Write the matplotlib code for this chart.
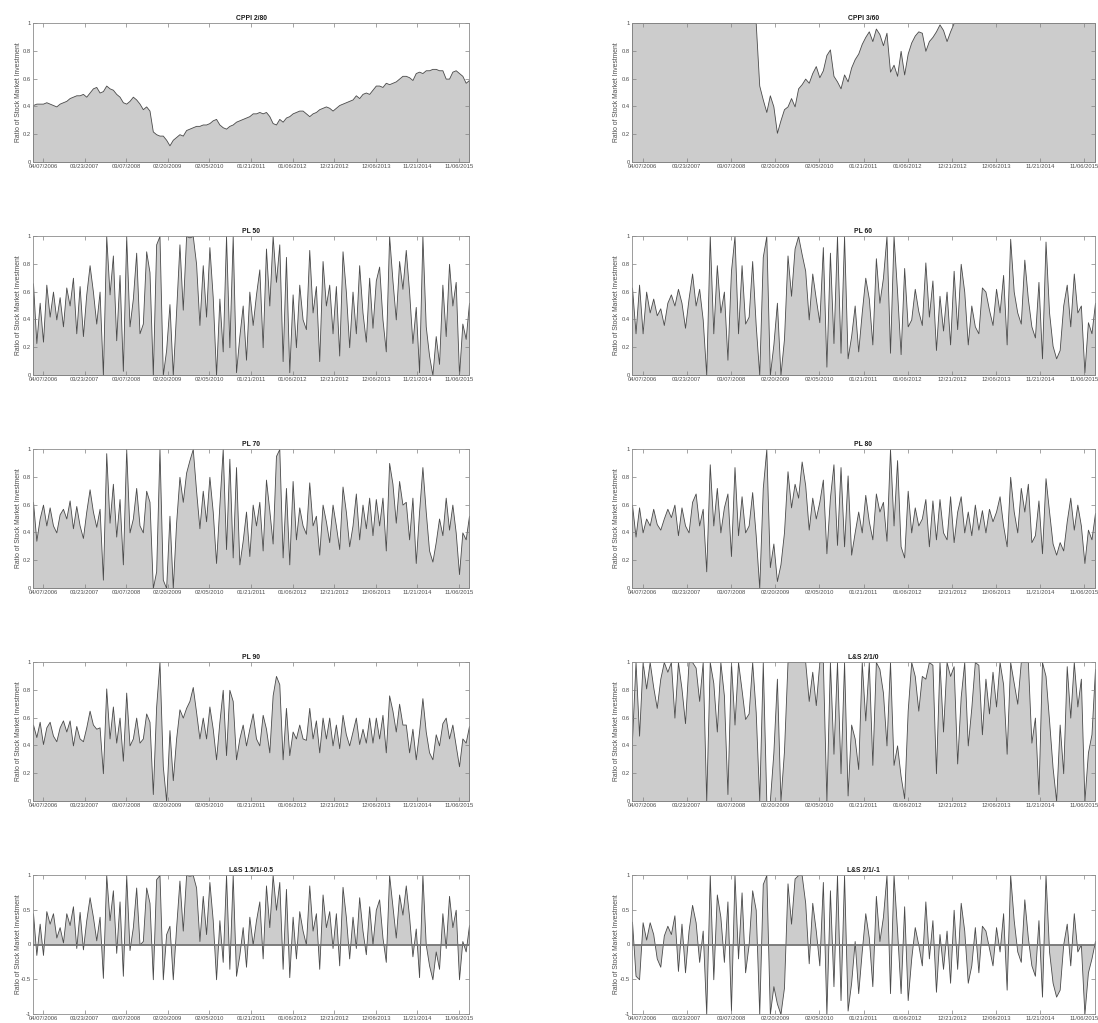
import numpy as np
import pandas as pd
import matplotlib
matplotlib.use("Agg")
import matplotlib.pyplot as plt

plt.rcParams['font.family'] = ['Liberation Sans', 'DejaVu Sans']
plt.rcParams['axes.unicode_minus'] = False

# sampling every 4 weeks, axis ticks every 50 weeks
dates = pd.date_range('2006-01-13', periods=132, freq='28D')
tick_dates = pd.date_range('2006-04-07', periods=11, freq='350D')
tick_labels = [d.strftime('%m/%d/%Y') for d in tick_dates]

cppi_2_80 = [0.41, 0.42, 0.42, 0.42, 0.43, 0.42, 0.41, 0.40, 0.42, 0.43, 0.44, 0.46,
             0.47, 0.48, 0.48, 0.49, 0.47, 0.50, 0.53, 0.54, 0.50, 0.51, 0.55, 0.53,
             0.52, 0.49, 0.47, 0.43, 0.42, 0.44, 0.47, 0.45, 0.42, 0.38, 0.40, 0.37,
             0.22, 0.20, 0.19, 0.19, 0.16, 0.12, 0.16, 0.18, 0.20, 0.19, 0.23, 0.24,
             0.25, 0.26, 0.26, 0.27, 0.27, 0.28, 0.30, 0.31, 0.27, 0.25, 0.24, 0.26,
             0.27, 0.29, 0.30, 0.31, 0.32, 0.33, 0.35, 0.35, 0.36, 0.35, 0.36, 0.33,
             0.28, 0.27, 0.31, 0.29, 0.32, 0.33, 0.35, 0.36, 0.37, 0.37, 0.35, 0.33,
             0.35, 0.36, 0.38, 0.39, 0.40, 0.39, 0.37, 0.39, 0.41, 0.42, 0.43, 0.44,
             0.45, 0.48, 0.46, 0.49, 0.50, 0.49, 0.52, 0.55, 0.55, 0.54, 0.57, 0.56,
             0.57, 0.58, 0.60, 0.62, 0.62, 0.61, 0.59, 0.64, 0.65, 0.64, 0.66, 0.66,
             0.67, 0.67, 0.66, 0.66, 0.60, 0.60, 0.65, 0.66, 0.64, 0.62, 0.57, 0.59]

cppi_3_60 = [1, 1, 1, 1, 1, 1, 1, 1, 1, 1, 1, 1,
             1, 1, 1, 1, 1, 1, 1, 1, 1, 1, 1, 1,
             1, 1, 1, 1, 1, 1, 1, 1, 1, 1, 1, 1,
             0.55, 0.45, 0.36, 0.48, 0.40, 0.21, 0.30, 0.38, 0.40, 0.46, 0.40, 0.53,
             0.56, 0.60, 0.57, 0.64, 0.69, 0.61, 0.66, 0.77, 0.81, 0.62, 0.58, 0.53,
             0.63, 0.58, 0.68, 0.74, 0.78, 0.85, 0.90, 0.94, 0.87, 0.96, 0.92, 0.84,
             0.93, 0.65, 0.70, 0.62, 0.80, 0.63, 0.78, 0.86, 0.91, 0.94, 0.93, 0.80,
             0.87, 0.90, 0.94, 0.99, 0.95, 0.87, 0.94, 1, 1, 1, 1, 1,
             1, 1, 1, 1, 1, 1, 1, 1, 1, 1, 1, 1,
             1, 1, 1, 1, 1, 1, 1, 1, 1, 1, 1, 1,
             1, 1, 1, 1, 1, 1, 1, 1, 1, 1, 1, 1]

pl_50 = [0.66, 0.23, 0.52, 0.24, 0.65, 0.42, 0.60, 0.40, 0.56, 0.35, 0.63, 0.50,
         0.70, 0.30, 0.64, 0.28, 0.58, 0.79, 0.60, 0.37, 0.60, 0.00, 1.00, 0.58,
         0.86, 0.25, 0.72, 0.03, 1.00, 0.35, 0.55, 0.88, 0.30, 0.37, 0.89, 0.74,
         0.00, 0.94, 1.00, 0.00, 0.18, 0.51, 0.00, 0.46, 0.94, 0.47, 1.00, 0.99,
         1.00, 0.80, 0.36, 0.79, 0.42, 0.92, 0.56, 0.00, 0.55, 0.17, 1.00, 0.20,
         1.00, 0.02, 0.28, 0.50, 0.11, 0.60, 0.36, 0.58, 0.76, 0.20, 0.91, 0.50,
         1.00, 0.67, 0.94, 0.10, 0.85, 0.02, 0.58, 0.20, 0.65, 0.40, 0.33, 0.90,
         0.45, 0.64, 0.10, 0.82, 0.50, 0.65, 0.30, 0.64, 0.14, 0.89, 0.60, 0.20,
         0.60, 0.30, 0.79, 0.45, 0.24, 0.70, 0.34, 0.68, 0.78, 0.40, 0.17, 1.00,
         0.68, 0.40, 0.82, 0.62, 0.90, 0.60, 0.23, 0.49, 0.02, 1.00, 0.35, 0.14,
         0.00, 0.28, 0.08, 0.65, 0.28, 0.80, 0.50, 0.67, 0.00, 0.37, 0.26, 0.52]

pl_60 = [0.63, 0.30, 0.65, 0.30, 0.60, 0.45, 0.55, 0.43, 0.48, 0.36, 0.52, 0.58,
         0.50, 0.62, 0.52, 0.34, 0.55, 0.73, 0.50, 0.62, 0.40, 0.00, 1.00, 0.30,
         0.79, 0.45, 0.60, 0.11, 0.75, 1.00, 0.30, 0.79, 0.37, 0.42, 0.82, 0.36,
         0.00, 0.85, 1.00, 0.00, 0.22, 0.52, 0.00, 0.26, 0.86, 0.57, 0.91, 1.00,
         0.87, 0.75, 0.40, 0.73, 0.55, 0.38, 0.92, 0.06, 0.88, 0.23, 1.00, 0.16,
         1.00, 0.12, 0.28, 0.50, 0.17, 0.45, 0.70, 0.55, 0.22, 0.84, 0.52, 0.70,
         1.00, 0.16, 1.00, 0.60, 0.15, 0.77, 0.35, 0.40, 0.62, 0.46, 0.36, 0.81,
         0.42, 0.68, 0.18, 0.57, 0.32, 0.60, 0.22, 0.75, 0.33, 0.80, 0.60, 0.22,
         0.50, 0.35, 0.30, 0.63, 0.60, 0.47, 0.36, 0.62, 0.45, 0.72, 0.22, 0.98,
         0.60, 0.45, 0.37, 0.83, 0.55, 0.35, 0.27, 0.67, 0.12, 0.96, 0.45, 0.21,
         0.12, 0.18, 0.50, 0.65, 0.35, 0.73, 0.45, 0.50, 0.02, 0.38, 0.30, 0.52]

pl_70 = [0.62, 0.34, 0.50, 0.60, 0.45, 0.58, 0.45, 0.40, 0.53, 0.57, 0.50, 0.63,
         0.43, 0.59, 0.45, 0.36, 0.55, 0.71, 0.55, 0.44, 0.57, 0.06, 0.97, 0.47,
         0.75, 0.37, 0.64, 0.17, 1.00, 0.40, 0.50, 0.72, 0.45, 0.40, 0.70, 0.62,
         0.00, 0.12, 1.00, 0.06, 0.00, 0.52, 0.00, 0.47, 0.80, 0.62, 0.83, 0.92,
         1.00, 0.70, 0.43, 0.70, 0.48, 0.80, 0.55, 0.18, 0.60, 1.00, 0.28, 0.93,
         0.22, 0.87, 0.17, 0.34, 0.55, 0.23, 0.60, 0.45, 0.62, 0.27, 0.78, 0.56,
         0.32, 0.95, 1.00, 0.22, 0.72, 0.17, 0.77, 0.35, 0.58, 0.45, 0.39, 0.76,
         0.45, 0.52, 0.24, 0.60, 0.48, 0.33, 0.60, 0.45, 0.28, 0.73, 0.55, 0.30,
         0.45, 0.68, 0.35, 0.60, 0.43, 0.65, 0.38, 0.64, 0.45, 0.65, 0.27, 0.90,
         0.75, 0.47, 0.77, 0.60, 0.62, 0.35, 0.65, 0.18, 0.55, 0.87, 0.55, 0.27,
         0.19, 0.33, 0.50, 0.38, 0.65, 0.42, 0.60, 0.40, 0.10, 0.40, 0.35, 0.52]

pl_80 = [0.60, 0.37, 0.58, 0.40, 0.50, 0.45, 0.57, 0.46, 0.42, 0.50, 0.57, 0.51,
         0.60, 0.38, 0.58, 0.45, 0.40, 0.62, 0.68, 0.45, 0.57, 0.12, 0.89, 0.45,
         0.72, 0.40, 0.58, 0.68, 0.23, 0.87, 0.38, 0.66, 0.40, 0.45, 0.69, 0.38,
         0.00, 0.72, 1.00, 0.15, 0.32, 0.05, 0.17, 0.40, 0.84, 0.58, 0.75, 0.65,
         0.91, 0.74, 0.42, 0.65, 0.50, 0.62, 0.78, 0.25, 0.65, 0.89, 0.31, 0.87,
         0.30, 0.81, 0.24, 0.40, 0.55, 0.40, 0.67, 0.48, 0.35, 0.68, 0.55, 0.62,
         0.34, 1.00, 0.45, 0.92, 0.30, 0.22, 0.70, 0.40, 0.58, 0.45, 0.50, 0.64,
         0.30, 0.63, 0.35, 0.64, 0.40, 0.35, 0.66, 0.33, 0.55, 0.66, 0.40, 0.55,
         0.38, 0.60, 0.42, 0.56, 0.40, 0.57, 0.48, 0.55, 0.66, 0.45, 0.30, 0.80,
         0.55, 0.40, 0.72, 0.55, 0.75, 0.33, 0.38, 0.63, 0.25, 0.79, 0.55, 0.32,
         0.24, 0.33, 0.27, 0.48, 0.65, 0.42, 0.60, 0.45, 0.18, 0.42, 0.35, 0.54]

pl_90 = [0.55, 0.46, 0.57, 0.41, 0.53, 0.57, 0.47, 0.43, 0.53, 0.58, 0.50, 0.58,
         0.40, 0.54, 0.45, 0.43, 0.53, 0.65, 0.55, 0.52, 0.53, 0.20, 0.81, 0.45,
         0.68, 0.42, 0.60, 0.29, 0.78, 0.40, 0.45, 0.60, 0.42, 0.45, 0.63, 0.57,
         0.05, 0.68, 1.00, 0.25, 0.00, 0.51, 0.15, 0.45, 0.66, 0.60, 0.67, 0.72,
         0.82, 0.64, 0.45, 0.60, 0.45, 0.68, 0.52, 0.30, 0.57, 0.80, 0.33, 0.80,
         0.72, 0.30, 0.45, 0.55, 0.40, 0.52, 0.63, 0.45, 0.40, 0.62, 0.52, 0.35,
         0.76, 0.90, 0.84, 0.30, 0.67, 0.33, 0.50, 0.45, 0.55, 0.45, 0.44, 0.67,
         0.45, 0.58, 0.35, 0.60, 0.45, 0.60, 0.40, 0.55, 0.38, 0.62, 0.48, 0.40,
         0.50, 0.60, 0.41, 0.52, 0.42, 0.60, 0.42, 0.60, 0.45, 0.62, 0.35, 0.76,
         0.65, 0.50, 0.70, 0.55, 0.55, 0.35, 0.52, 0.30, 0.50, 0.74, 0.50, 0.35,
         0.30, 0.48, 0.40, 0.56, 0.60, 0.45, 0.55, 0.40, 0.25, 0.45, 0.42, 0.54]

ls_2_1_0 = [0.44, 1.00, 0.47, 1.00, 0.81, 1.00, 0.82, 0.67, 0.88, 1.00, 0.93, 1.00,
            0.60, 1.00, 0.81, 0.56, 1.00, 1.00, 0.96, 0.72, 1.00, 0.00, 1.00, 0.85,
            0.50, 1.00, 0.76, 0.05, 1.00, 0.55, 1.00, 0.80, 0.59, 0.63, 1.00, 0.64,
            0.00, 1.00, 0.00, 0.00, 0.35, 0.88, 0.00, 0.36, 1.00, 1.00, 1.00, 1.00,
            1.00, 1.00, 0.72, 0.93, 0.69, 1.00, 1.00, 0.00, 1.00, 0.34, 1.00, 0.20,
            1.00, 0.04, 0.55, 0.45, 0.23, 1.00, 0.58, 1.00, 0.26, 1.00, 0.95, 0.78,
            0.40, 1.00, 0.26, 0.40, 0.18, 0.02, 0.65, 1.00, 0.90, 0.65, 0.90, 0.88,
            1.00, 0.98, 0.20, 1.00, 0.50, 1.00, 0.90, 0.97, 0.27, 0.75, 1.00, 0.40,
            0.67, 1.00, 0.98, 0.48, 0.88, 0.63, 0.93, 0.68, 1.00, 0.84, 0.34, 1.00,
            0.85, 0.70, 1.00, 1.00, 1.00, 0.42, 0.60, 0.05, 1.00, 0.90, 0.58, 0.24,
            0.00, 0.55, 0.20, 0.97, 0.60, 1.00, 0.68, 0.88, 0.00, 0.35, 0.48, 0.95]

ls_15_1_05 = [0.45, -0.15, 0.30, -0.15, 0.48, 0.30, 0.45, 0.10, 0.25, 0.03, 0.45, 0.28,
              0.55, -0.05, 0.47, -0.07, 0.35, 0.68, 0.40, 0.06, 0.40, -0.48, 1.00, 0.35,
              0.78, -0.12, 0.62, -0.45, 1.00, -0.08, 0.25, 0.82, 0.00, 0.05, 0.82, 0.60,
              -0.50, 0.94, 1.00, -0.50, 0.15, 0.27, -0.50, 0.25, 0.92, 0.20, 1.00, 0.99,
              1.00, 0.82, 0.05, 0.70, 0.15, 0.90, 0.35, -0.50, 0.35, -0.25, 1.00, -0.35,
              1.00, -0.45, -0.15, 0.25, -0.32, 0.40, 0.00, 0.35, 0.62, -0.20, 0.85, 0.25,
              1.00, 0.50, 0.90, -0.35, 0.80, -0.47, 0.40, -0.20, 0.48, 0.20, 0.00, 0.85,
              0.20, 0.45, -0.35, 0.72, 0.25, 0.48, -0.05, 0.45, -0.30, 0.83, 0.40, -0.20,
              0.40, -0.05, 0.68, 0.20, -0.14, 0.55, 0.00, 0.50, 0.65, 0.10, -0.25, 1.00,
              0.55, 0.10, 0.72, 0.43, 0.85, 0.40, -0.17, 0.23, -0.47, 1.00, 0.00, -0.30,
              -0.50, -0.10, -0.35, 0.45, -0.05, 0.70, 0.25, 0.50, -0.50, 0.05, -0.10, 0.28]

ls_2_1_m1 = [0.33, -0.45, -0.50, 0.32, 0.07, 0.32, 0.15, -0.20, -0.32, 0.13, 0.27, 0.15,
             0.42, -0.38, 0.30, -0.40, 0.20, 0.57, 0.32, -0.25, 0.20, -1.00, 1.00, -0.50,
             0.72, 0.40, -0.25, 0.62, -0.95, 1.00, -0.20, 0.75, -0.40, 0.00, 0.78, 0.50,
             -1.00, 0.87, 1.00, -1.00, -0.60, -0.85, -1.00, -0.62, 0.88, 0.30, 0.95, 1.00,
             1.00, 0.60, -0.27, 0.60, 0.20, -0.30, 0.90, -1.00, 0.78, -0.60, 1.00, -0.80,
             1.00, -0.95, -0.55, 0.05, -0.70, -0.10, 0.45, 0.10, -0.60, 0.70, 0.05, 0.40,
             1.00, -0.70, 1.00, 0.20, -0.70, 0.55, -0.80, -0.20, 0.25, 0.00, -0.30, 0.62,
             -0.20, 0.35, -0.68, 0.15, -0.35, 0.20, -0.55, 0.50, -0.35, 0.60, 0.20, -0.55,
             -0.30, 0.25, -0.40, 0.27, 0.20, -0.05, -0.30, 0.25, -0.10, 0.45, -0.65, 1.00,
             0.35, -0.10, -0.25, 0.65, 0.10, -0.30, -0.45, 0.35, -0.75, 1.00, -0.10, -0.55,
             -0.75, -0.65, 0.00, 0.30, -0.30, 0.45, -0.10, 0.00, -1.00, -0.40, -0.20, 0.05]

titles = ['CPPI 2/80', 'CPPI 3/60', 'PL 50', 'PL 60', 'PL 70', 'PL 80',
          'PL 90', 'L&S 2/1/0', 'L&S 1.5/1/-0.5', 'L&S 2/1/-1']
series = [cppi_2_80, cppi_3_60, pl_50, pl_60, pl_70, pl_80,
          pl_90, ls_2_1_0, ls_15_1_05, ls_2_1_m1]

W, H = 1098, 1023
fig = plt.figure(figsize=(W / 100, H / 100), dpi=100)

col_x = [33, 632]
col_w = [436, 463]
row_top = [23, 236, 449, 662, 875]
ax_h = 139

for k in range(len(titles)):
    r, c = divmod(k, 2)
    ax = fig.add_axes([col_x[c] / W, 1 - (row_top[r] + ax_h) / H, col_w[c] / W, ax_h / H])
    vals = np.array(series[k])
    ax.fill_between(dates, 0, vals, facecolor='#cccccc', edgecolor='#4a4a4a', linewidth=0.6)
    if r == 4:
        ax.set_ylim(-1, 1)
        ax.set_yticks([-1, -0.5, 0, 0.5, 1])
        ax.set_yticklabels(['-1', '-0.5', '0', '0.5', '1'])
        ax.axhline(0, color='#7a7a7a', lw=1.3, zorder=3)
    else:
        ax.set_ylim(0, 1)
        ax.set_yticks([0, 0.2, 0.4, 0.6, 0.8, 1])
        ax.set_yticklabels(['0', '0.2', '0.4', '0.6', '0.8', '1'])
    ax.set_xlim(dates[0], dates[-1])
    ax.set_xticks(tick_dates)
    ax.set_xticklabels(tick_labels)
    ax.tick_params(direction='in', length=3, width=0.5, top=True, right=True,
                   labelsize=4.2, labelcolor='#4d4d4d', color='#808080', pad=1.5)
    for s in ax.spines.values():
        s.set_color('#8c8c8c')
        s.set_linewidth(0.6)
    ax.set_title(titles[k], fontsize=4.9, fontweight='bold', color='#1a1a1a', pad=2.5)
    ax.set_ylabel('Ratio of Stock Market Investment', fontsize=4.9, color='#4d4d4d')
    ax.yaxis.set_label_coords(-0.026 if c == 0 else -0.025, 0.5)

fig.savefig('out.png', dpi=100)
